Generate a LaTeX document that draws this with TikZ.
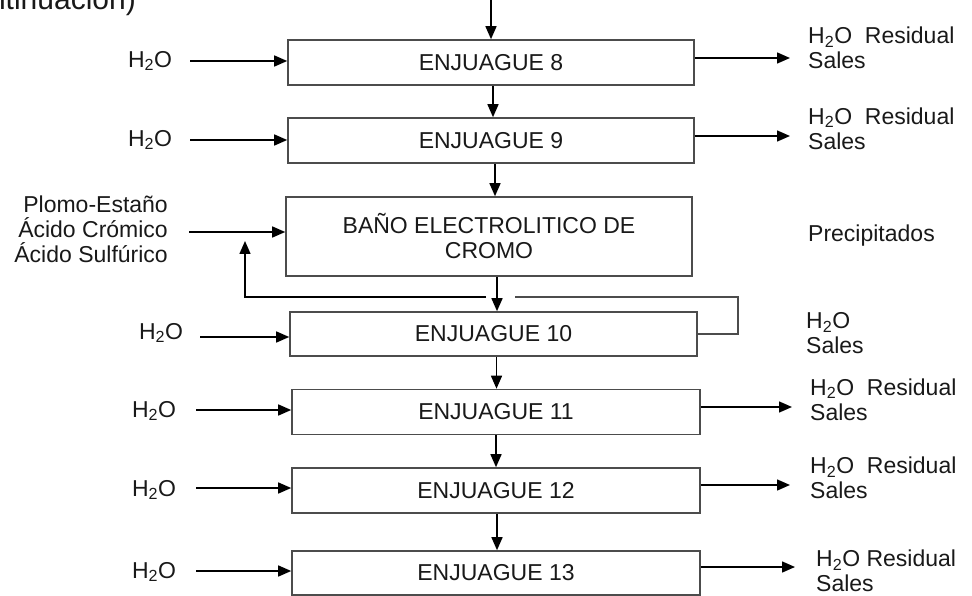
\documentclass[tikz,border=0pt]{standalone}
\usepackage{fontspec}
\setmainfont{Liberation Sans}
\usetikzlibrary{arrows.meta,calc}
\begin{document}
\begin{tikzpicture}[x=1pt,y=-1pt,
  font=\fontsize{23}{25}\selectfont,
  box/.style={draw=black!70,line width=1.6pt,inner sep=0pt,fill=white,text=black!90},
  arr/.style={draw=black,line width=1.5pt,-{Triangle[length=13pt,width=11pt]}},
  lbl/.style={inner sep=0pt,text=black!90},
  fb/.style={draw=black!70,line width=1.5pt}]
\useasboundingbox (0,0) rectangle (972,596);
\clip (0,0) rectangle (972,596);

% cropped heading (only its lower part shows in the reference)
\node[lbl,anchor=base east,font=\fontsize{30}{32}\selectfont] (cont) at (136,10) {(continuación)};

% boxes
\node[box,minimum width=406pt,minimum height=45pt] (b8) at (491,62.5) {ENJUAGUE 8};
\node[box,minimum width=406pt,minimum height=45pt] (b9) at (491,140.5) {ENJUAGUE 9};
\node[box,minimum width=406pt,minimum height=79pt,align=center] (bano) at (489,236.5) {BAÑO ELECTROLITICO DE\\CROMO};
\node[box,minimum width=407pt,minimum height=44pt] (b10) at (493.5,334) {ENJUAGUE 10};
\node[box,minimum width=408pt,minimum height=45pt] (b11) at (496,412) {ENJUAGUE 11};
\node[box,minimum width=408pt,minimum height=45pt] (b12) at (496,490.5) {ENJUAGUE 12};
\node[box,minimum width=408pt,minimum height=44pt] (b13) at (496,573) {ENJUAGUE 13};

% left labels
\node[lbl] (h8) at (150,61) {H\textsubscript{2}O};
\node[lbl] (h9) at (150,140) {H\textsubscript{2}O};
\node[lbl,anchor=east,align=right] (inb) at (168,229) {Plomo-Estaño\\Ácido Crómico\\Ácido Sulfúrico};
\node[lbl] (h10) at (161,333) {H\textsubscript{2}O};
\node[lbl] (h11) at (154,411) {H\textsubscript{2}O};
\node[lbl] (h12) at (154,490) {H\textsubscript{2}O};
\node[lbl] (h13) at (154,572) {H\textsubscript{2}O};

% right labels
\node[lbl,anchor=west,align=left] (r8) at (808,48) {H\textsubscript{2}O\ \ Residual\\Sales};
\node[lbl,anchor=west,align=left] (r9) at (808,128.5) {H\textsubscript{2}O\ \ Residual\\Sales};
\node[lbl,anchor=west] (prec) at (808,236) {Precipitados};
\node[lbl,anchor=west,align=left] (r10) at (806,333) {H\textsubscript{2}O\\Sales};
\node[lbl,anchor=west,align=left] (r11) at (810,399.5) {H\textsubscript{2}O\ \ Residual\\Sales};
\node[lbl,anchor=west,align=left] (r12) at (810,478) {H\textsubscript{2}O\ \ Residual\\Sales};
\node[lbl,anchor=west,align=left] (r13) at (816,571) {H\textsubscript{2}O Residual\\Sales};

% left input arrows
\coordinate (s8) at (190,61);
\coordinate (s9) at (190,140);
\coordinate (sb) at (189,232);
\coordinate (s10) at (200,337);
\coordinate (s11) at (196,410);
\coordinate (s12) at (196,488);
\coordinate (s13) at (196,571);
\draw[arr] (s8) -- (s8 -| b8.west);
\draw[arr] (s9) -- (s9 -| b9.west);
\draw[arr] (sb) -- (sb -| bano.west);
\draw[arr] (s10) -- (s10 -| b10.west);
\draw[arr] (s11) -- (s11 -| b11.west);
\draw[arr] (s12) -- (s12 -| b12.west);
\draw[arr] (s13) -- (s13 -| b13.west);

% right output arrows
\coordinate (e8) at (790,58);
\coordinate (e9) at (790,136);
\coordinate (e11) at (792,407);
\coordinate (e12) at (790,485);
\coordinate (e13) at (795,567);
\draw[arr] (b8.east |- e8) -- (e8);
\draw[arr] (b9.east |- e9) -- (e9);
\draw[arr] (b11.east |- e11) -- (e11);
\draw[arr] (b12.east |- e12) -- (e12);
\draw[arr] (b13.east |- e13) -- (e13);

% vertical flow
\coordinate (top) at (491,0);
\draw[arr] (top) -- (top |- b8.north);
\coordinate (v1) at ([xshift=2pt]b8.south);
\draw[arr] (v1) -- (v1 |- b9.north);
\coordinate (v2) at ([xshift=4pt]b9.south);
\draw[arr] (v2) -- (v2 |- bano.north);
\coordinate (v3) at ([xshift=8pt]bano.south);
\draw[arr] (v3) -- (v3 |- b10.north);
\coordinate (v4) at ([xshift=3pt]b10.south);
\draw[arr] (v4) -- (v4 |- b11.north);
\draw[arr] (b11.south) -- (b11.south |- b12.north);
\coordinate (v6) at ([xshift=1pt]b12.south);
\draw[arr] (v6) -- (v6 |- b13.north);

% recycle loop from ENJUAGUE 10 back to the bath
\coordinate (fr) at (738,297);
\coordinate (fg1) at (515,297);
\coordinate (fg2) at (486,297);
\coordinate (fl) at (245,297);
\coordinate (ft) at (245,241);
\draw[fb] (b10.east) -| (fr) -- (fg1);
\draw[arr] (fg2) -- (fl) -- (ft);
\end{tikzpicture}
\end{document}
